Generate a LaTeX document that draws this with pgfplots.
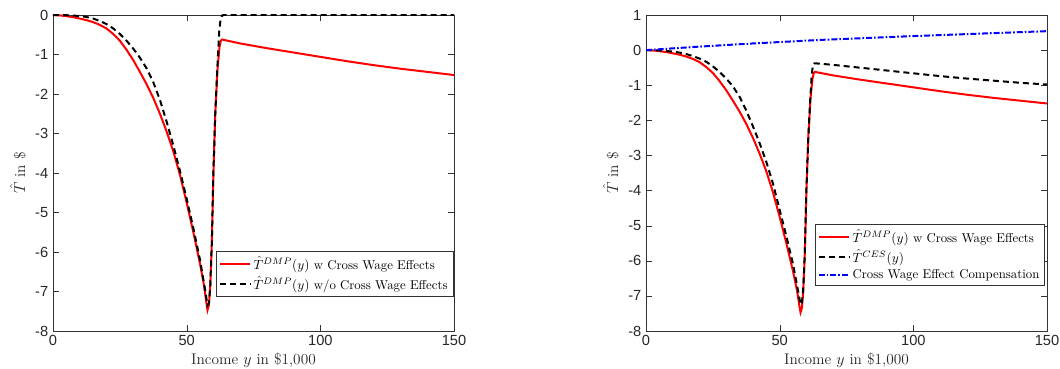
\documentclass[border=0pt]{standalone}
\usepackage{pgfplots}
\pgfplotsset{compat=1.18}
\usepackage{fontspec}
\setsansfont{Liberation Sans}
\pgfplotstableread{
x y
0 0
2.5 -0.01
5 -0.03
7.5 -0.055
10 -0.09
12.5 -0.13
15 -0.18
17.5 -0.25
20 -0.34
22.5 -0.48
25 -0.65
27.5 -0.88
30 -1.14
32.5 -1.44
35 -1.75
37.5 -2.1
40 -2.5
42.5 -2.95
45 -3.45
47.5 -4.05
50 -4.75
52.5 -5.5
55 -6.3
56.5 -6.85
57.3 -7.25
57.8 -7.47
58.3 -7.35
58.8 -6.9
59.4 -5.8
60 -4.0
60.7 -2.5
61.5 -1.4
62.3 -0.8
62.8 -0.65
63.2 -0.62
70 -0.72
80 -0.84
90 -0.95
100 -1.06
110 -1.17
120 -1.27
130 -1.36
140 -1.44
150 -1.52
}\red
\pgfplotstableread{
x y
0 0
5 -0.005
10 -0.025
12.5 -0.05
15 -0.09
17.5 -0.15
20 -0.23
22.5 -0.34
25 -0.48
27.5 -0.65
30 -0.85
32.5 -1.08
35 -1.35
37.5 -1.7
40 -2.15
42.5 -2.7
45 -3.3
47.5 -3.95
50 -4.65
52.5 -5.4
55 -6.2
57 -7.0
57.8 -7.35
58.3 -7.3
58.8 -6.9
59.4 -5.8
60 -4.0
60.7 -2.5
61.5 -1.3
62.2 -0.4
62.7 -0.1
63.3 -0.01
64 0
150 0
}\wo
\pgfplotstableread{
x y
0 0
5 -0.01
10 -0.04
12.5 -0.07
15 -0.11
17.5 -0.17
20 -0.24
22.5 -0.33
25 -0.46
27.5 -0.62
30 -0.81
32.5 -1.03
35 -1.33
37.5 -1.72
40 -2.17
42.5 -2.65
45 -3.18
47.5 -3.8
50 -4.55
52.5 -5.3
55 -6.1
57 -6.9
57.8 -7.25
58.3 -7.2
58.8 -6.8
59.4 -5.8
60 -4.0
60.7 -2.5
61.5 -1.3
62 -0.7
62.4 -0.45
63 -0.38
64 -0.38
70 -0.42
80 -0.5
90 -0.58
100 -0.66
110 -0.74
120 -0.81
130 -0.87
140 -0.93
150 -0.98
}\ces
\pgfplotstableread{
x y
0 0
10 0.05
20 0.1
40 0.19
65 0.29
100 0.4
125 0.47
150 0.54
}\comp
\pgfplotsset{
  mystyle/.style={
    scale only axis, width=300.75pt, height=237pt,
    xmin=0, xmax=150, xtick={0,50,100,150},
    tick align=inside, axis line style={black!80}, major tick style={black!80},
    /pgf/number format/assume math mode=true,
    ticklabel style={font=\sffamily\fontsize{11}{13}\selectfont, text=black!85},
    label style={font=\fontsize{11.5}{13}\selectfont, text=black!85},
    xlabel={Income $y$ in \$1,000},
    ylabel={$\hat{T}$ in \$},
    xlabel style={yshift=2pt},
    legend style={font=\fontsize{9.6}{11}\selectfont, draw=black!80, inner sep=2pt, row sep=0pt,
      cells={anchor=west, inner ysep=1.6pt}},
    legend image code/.code={\draw[##1] (0cm,0cm) -- (0.8cm,0cm);},
  }
}
\begin{document}
\begin{tikzpicture}
\begin{axis}[mystyle, ymin=-8, ymax=0, ytick={-8,-7,...,0},
  legend style={at={(0.998,0.253)}, anchor=north east}]
\addplot[red, line width=1.5pt] table[x=x,y=y]{\red};
\addlegendentry{$\hat{T}^{DMP}(y)$ w Cross Wage Effects}
\addplot[black, line width=1.5pt, dash pattern=on 4.5pt off 3pt] table[x=x,y=y]{\wo};
\addlegendentry{$\hat{T}^{DMP}(y)$ w/o Cross Wage Effects}
\end{axis}
\begin{axis}[mystyle, xshift=444.75pt, ymin=-8, ymax=1, ytick={-8,-7,...,1},
  legend style={at={(0.995,0.339)}, anchor=north east}]
\addplot[red, line width=1.5pt] table[x=x,y=y]{\red};
\addlegendentry{$\hat{T}^{DMP}(y)$ w Cross Wage Effects}
\addplot[black, line width=1.5pt, dash pattern=on 4.5pt off 3pt] table[x=x,y=y]{\ces};
\addlegendentry{$\hat{T}^{CES}(y)$}
\addplot[blue, line width=1.5pt, dash pattern=on 4.5pt off 1.5pt on 1.2pt off 1.5pt] table[x=x,y=y]{\comp};
\addlegendentry{Cross Wage Effect Compensation}
\end{axis}
\pgfresetboundingbox
\path (-39.75pt,-27.75pt) rectangle (755.25pt,248.25pt);
\end{tikzpicture}
\end{document}
